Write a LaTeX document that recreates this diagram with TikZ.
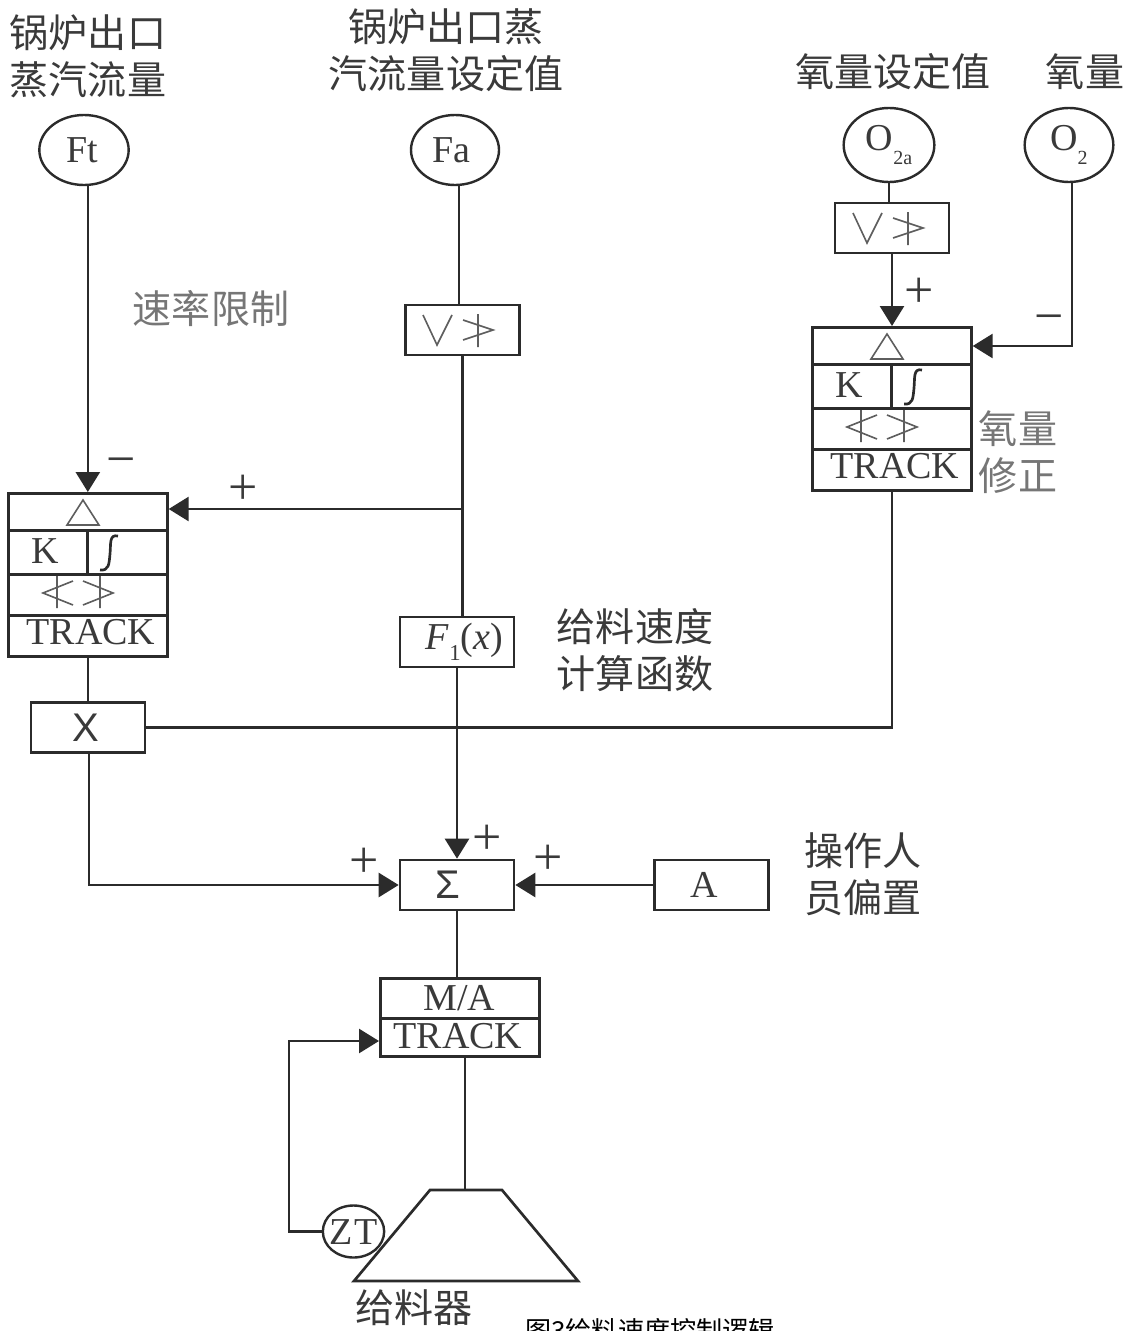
\documentclass[tikz,border=0pt]{standalone}
\usepackage{fontspec}
\setmainfont{Liberation Serif}
\newfontfamily\cjkf{Noto Sans CJK SC}
\newfontfamily\arialf{Liberation Sans}
\usetikzlibrary{shapes.geometric,arrows.meta}
\definecolor{ink}{HTML}{2B2B2B}
\definecolor{txt}{HTML}{3A3A3A}
\definecolor{faint}{HTML}{5E5E5E}
\tikzset{
  wire/.style={draw=ink,line width=2pt},
  flow/.style={wire,-{Triangle[length=15pt,width=18pt]},shorten >=0pt},
  rowbox/.style={draw=ink,line width=2pt,fill=white,rectangle,inner sep=0pt,anchor=north west,text=txt,font=\fontsize{28.5pt}{30pt}\selectfont},
  blk/.style={draw=ink,line width=2pt,fill=white,rectangle,inner sep=0pt,minimum width=85.5pt,minimum height=37.5pt,text=txt,font=\fontsize{28.5pt}{30pt}\selectfont},
  src/.style={draw=ink,line width=1.8pt,fill=white,ellipse,inner sep=0pt,text=txt,font=\fontsize{28.5pt}{30pt}\selectfont},
  cjklabel/.style={inner sep=0pt,align=center,text=txt,font=\cjkf\fontsize{29.3pt}{35.5pt}\selectfont},
  cjkgrey/.style={cjklabel,text=faint!85},
  sign/.style={inner sep=0pt,text=txt,font=\fontsize{39pt}{40pt}\selectfont},
  glyph/.style={draw=faint,line width=1.2pt,line join=miter},
  pidbox/.pic={
    \node[rowbox,minimum width=119.25pt,minimum height=27.75pt] (-a) at (0,0) {};
    \node[rowbox,minimum width=59.6pt,minimum height=33pt] (-k) at (0,37) {};
    \node[rowbox,minimum width=59.6pt,minimum height=33pt] (-i) at (79.5,37) {};
    \node[rowbox,minimum width=119.25pt,minimum height=30.75pt] (-l) at (0,81) {};
    \node[rowbox,minimum width=119.25pt,minimum height=31pt] (-t) at (0,122) {};
    \node[inner sep=0pt,text=txt,font=\fontsize{28.5pt}{30pt}\selectfont] (-tt) at (84,140) {TRACK};
    \node[txt,inner sep=0pt,font=\fontsize{28.5pt}{30pt}\selectfont] (-kt) at (38,59) {K};
    \draw[glyph] (60,33) -- (76,8) -- (92,33) -- cycle;
    \draw[draw=ink,line width=2pt] (111,44) .. controls (102,42) and (104,52) .. (103,62) .. controls (102,72) and (102,79) .. (93,78);
    \draw[glyph] (66,89) -- (36,101) -- (66,113) (50,84) -- (50,116);
    \draw[glyph] (76,89) -- (106,101) -- (76,113) (93,84) -- (93,116);
  },
  limbox/.pic={
    \draw[glyph] (18,10) -- (32,40) -- (47,10);
    \draw[glyph] (58,15) -- (88,25) -- (58,35) (73,9) -- (73,42);
  }
}
\begin{document}
\begin{tikzpicture}[x=0.75pt,y=-0.75pt]
\useasboundingbox (0,0) rectangle (1126,1331);
\fill[white] (0,0) rectangle (1126,1331);
\clip (0,0) rectangle (1126,1331);

% sources
\node[src,minimum width=67pt,minimum height=52.5pt] (Ft) at (84,150) {\kern-3pt Ft};
\node[src,minimum width=66pt,minimum height=52.5pt] (Fa) at (455,150) {\kern-6pt Fa};
\node[src,minimum width=68pt,minimum height=55.5pt] (O2a) at (889,145) {\raisebox{4pt}{O}\raisebox{-6pt}{\fontsize{15pt}{15pt}\selectfont 2a}};
\node[src,minimum width=66.5pt,minimum height=55.5pt] (O2) at (1069,145) {\raisebox{5pt}{O}\raisebox{-6pt}{\fontsize{15pt}{15pt}\selectfont 2}};

% blocks
\node[blk] (LimA) at (892,228) {};
\pic at (835,203) {limbox};
\node[blk] (LimB) at (462.5,330) {};
\pic at (405,305) {limbox};
\pic (R) at (811,326) {pidbox};
\pic (L) at (7,492) {pidbox};
\node[blk] (F1) at (457,642) {\kern11pt\textit{F}\raisebox{-8pt}{\fontsize{17pt}{17pt}\selectfont 1}(\textit{x})};
\node[blk,font=\arialf\fontsize{30pt}{30pt}\selectfont] (X) at (88,727.5) {\kern-3pt X};
\node[blk,font=\arialf\fontsize{30pt}{30pt}\selectfont] (Sum) at (457,885) {\kern-14pt Σ};
\node[blk] (A) at (711.5,885) {\kern-11pt A};
\node[rowbox,minimum width=119.25pt,minimum height=30pt] (MA) at (379,977) {\kern-1pt M/A};
\node[rowbox,minimum width=119.25pt,minimum height=28.5pt] (Tr) at (379,1017) {};
\node[inner sep=0pt,text=txt,font=\fontsize{28.5pt}{30pt}\selectfont] (TrT) at (458,1036) {TRACK};

% feeder
\coordinate (FeedTop) at (465,1190);
\draw[wire,line join=miter] (430,1190) -- (FeedTop) -- (502,1190) -- (578,1281) -- (354,1281) -- cycle;
\node[src,minimum width=46pt,minimum height=39pt] (ZT) at (353.5,1231.5) {\smash{\raisebox{-9.5pt}{\makebox[0pt]{Z\kern1.5pt T}}}};

% connectors
\draw[wire] (O2a) -- (O2a |- LimA.north);
\draw[flow] (LimA.south) -- (R-a.north -| LimA);
\coordinate (O2c) at (1072,346);
\draw[flow] (O2c |- O2.south) -- (O2c) -- (O2c -| R-a.east);
\draw[flow] (L-a.north |- Ft.south) -- (L-a.north);
\coordinate (FaL) at (459,305);
\draw[wire] (FaL |- Fa.south) -- (FaL);
\coordinate (Br) at (462,509);
\draw[wire] (LimB.south) -- (LimB.south |- F1.north);
\draw[flow] (Br) -- (Br -| L-a.east);
\draw[flow] (F1.south) -- (Sum.north);
\draw[wire] (L-t.south) -- (L-t.south |- X.north);
\draw[wire] (R-t.south) -- (R-t.south |- X.east) -- (X.east);
\coordinate (Xc) at (89,885);
\draw[flow] (Xc |- X.south) -- (Xc) -- (Sum.west);
\draw[flow] (A.west) -- (Sum.east);
\draw[wire] (Sum.south) -- (Sum.south |- MA.north);
\draw[wire] (FeedTop |- Tr.south) -- (FeedTop);
\coordinate (Zc) at (289,1041);
\draw[flow] (ZT.west) -- (ZT.west -| Zc) -- (Zc) -- (Zc -| Tr.west);

% signs
\node[sign] (s1) at (243,490) {+};
\node[sign] (s2) at (121,467) {−};
\node[sign] (s3) at (919,293) {+};
\node[sign] (s4) at (1049,324) {−};
\node[sign] (s5) at (364,863) {+};
\node[sign] (s6) at (487,840) {+};
\node[sign] (s7) at (548,860) {+};

% labels
\node[cjklabel] (t1) at (88,56) {锅炉出口\\蒸汽流量};
\node[cjklabel] (t2) at (446,50) {锅炉出口蒸\\汽流量设定值};
\node[cjklabel] (t3) at (893,72) {氧量设定值};
\node[cjklabel] (t4) at (1085,72) {氧量};
\node[cjkgrey] (t5) at (211,309) {速率限制};
\node[cjkgrey] (t6) at (1018,452) {氧量\\修正};
\node[cjklabel] (t7) at (635,650) {给料速度\\计算函数};
\node[cjklabel] (t8) at (863,874) {操作人\\员偏置};
\node[cjklabel] (t9) at (414,1308) {给料器};
\node[inner sep=0pt,text=black,font=\cjkf\fontsize{19.6pt}{20pt}\selectfont] (cap) at (650,1331) {图3给料速度控制逻辑};
\end{tikzpicture}
\end{document}
